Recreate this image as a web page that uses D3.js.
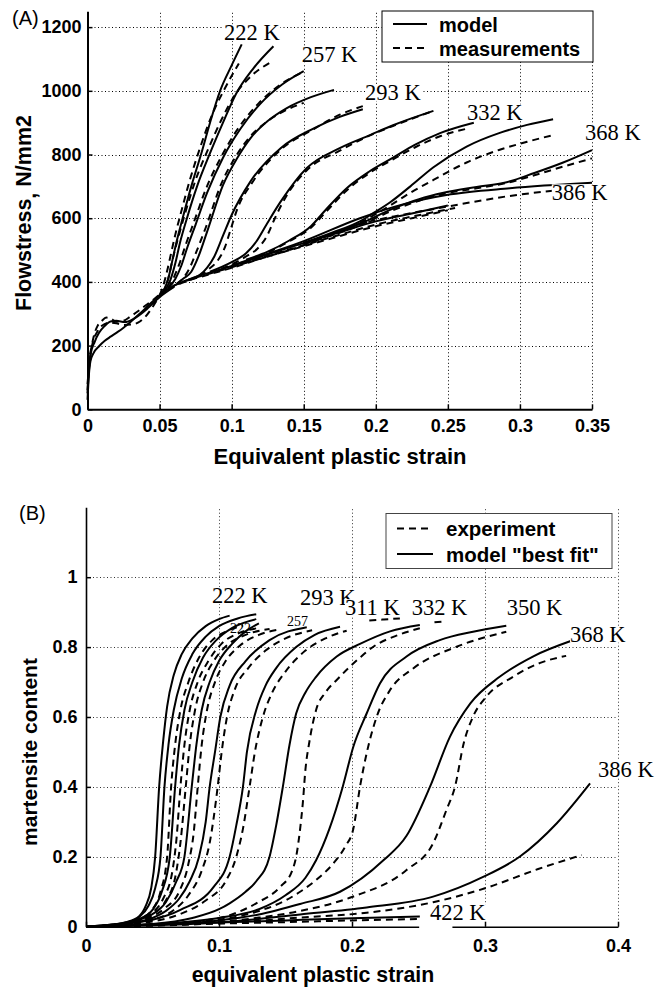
<!DOCTYPE html>
<html><head><meta charset="utf-8">
<script src="https://cdn.jsdelivr.net/npm/d3@7"></script>
<style>body{margin:0;background:#fff}svg{display:block}</style>
</head><body>
<svg id="c" width="664" height="992"></svg>
<script>
// ---------------- DATA : panel A ----------------
const aXTicks=[0,0.05,0.1,0.15,0.2,0.25,0.3,0.35];
const aXTickLabels=["0","0.05","0.1","0.15","0.2","0.25","0.3","0.35"];
const aYTicks=[0,200,400,600,800,1000,1200];
const aYTickLabels=["0","200","400","600","800","1000","1200"];

const aModelTrunk=[[0,30],[0.001,110],[0.002,150],[0.004,175],[0.008,198],[0.012,215],[0.016,228],[0.02,240],[0.025,256],[0.03,275],[0.035,295],[0.04,316],[0.045,338],[0.05,358],[0.06,388],[0.07,407],[0.078,420],[0.09,436],[0.1,450],[0.125,487],[0.15,522],[0.175,556],[0.2,590],[0.225,615],[0.25,640]];
const aModelTrunk2=[[0,50],[0.002,170],[0.005,212],[0.008,240],[0.012,262],[0.016,276],[0.02,278],[0.026,274],[0.032,284],[0.04,310],[0.05,352],[0.06,384]];
const aMeasTrunk1=[[0,60],[0.001,140],[0.003,200],[0.005,240],[0.007,262],[0.01,278],[0.013,288],[0.016,285],[0.02,275],[0.025,278],[0.03,292],[0.035,308],[0.04,325],[0.045,342],[0.05,360],[0.06,388],[0.07,406],[0.08,420],[0.1,446],[0.125,482],[0.15,515],[0.175,548],[0.2,580],[0.225,605],[0.255,632]];
const aMeasTrunk2=[[0,80],[0.002,170],[0.004,215],[0.007,245],[0.01,262],[0.015,272],[0.02,270],[0.025,265],[0.03,266],[0.035,272],[0.04,290],[0.045,320],[0.05,355],[0.06,385],[0.07,404],[0.08,418],[0.1,444],[0.125,480],[0.15,512],[0.175,544],[0.2,575],[0.225,600],[0.25,625]];

const aModel222=[[0.05,358],[0.053,375],[0.056,410],[0.059,470],[0.062,530],[0.066,600],[0.072,700],[0.079,804],[0.085,900],[0.092,1000],[0.1,1080],[0.107,1146]];
const aMeas222=[[0.05,358],[0.052,380],[0.055,430],[0.058,490],[0.061,550],[0.065,620],[0.071,720],[0.078,820],[0.086,920],[0.095,1005],[0.105,1086]];
const aModel240=[[0.052,365],[0.057,400],[0.061,460],[0.064,520],[0.069,600],[0.076,700],[0.085,804],[0.094,900],[0.103,990],[0.115,1070],[0.129,1140]];
const aMeas240=[[0.052,365],[0.056,410],[0.059,470],[0.063,540],[0.068,620],[0.075,720],[0.084,820],[0.093,910],[0.102,985],[0.114,1048],[0.128,1092]];
const aModel257=[[0.056,380],[0.061,410],[0.065,450],[0.069,505],[0.075,580],[0.083,680],[0.094,790],[0.106,880],[0.12,960],[0.135,1020],[0.15,1062]];
const aMeas257=[[0.056,380],[0.06,415],[0.064,460],[0.068,515],[0.074,590],[0.082,690],[0.093,795],[0.105,885],[0.119,962],[0.134,1020],[0.149,1058]];
const aModel275=[[0.062,395],[0.067,412],[0.072,432],[0.077,480],[0.083,558],[0.094,704],[0.104,790],[0.113,851],[0.125,905],[0.138,945],[0.155,980],[0.171,1003]];
const aMeas275=[[0.062,393],[0.067,415],[0.071,445],[0.076,500],[0.082,570],[0.093,710],[0.103,795],[0.112,852],[0.125,905],[0.138,940],[0.15,962]];
const aModel293=[[0.07,407],[0.078,422],[0.083,445],[0.088,480],[0.094,545],[0.1,610],[0.113,715],[0.134,820],[0.157,882],[0.175,918],[0.191,942]];
const aMeas293=[[0.07,405],[0.078,420],[0.084,440],[0.09,465],[0.095,505],[0.099,560],[0.104,630],[0.114,710],[0.134,815],[0.157,880],[0.175,925],[0.191,952]];
const aModel311=[[0.085,432],[0.1,462],[0.11,490],[0.117,526],[0.124,579],[0.134,652],[0.152,757],[0.175,820],[0.196,861],[0.212,892],[0.24,937]];
const aMeas311=[[0.085,430],[0.1,455],[0.11,480],[0.118,505],[0.124,540],[0.13,600],[0.138,670],[0.152,750],[0.175,812],[0.196,860],[0.215,895],[0.24,937]];
const aModel332=[[0.11,470],[0.125,495],[0.14,530],[0.155,575],[0.165,625],[0.18,695],[0.195,745],[0.212,790],[0.227,830],[0.245,868],[0.268,900]];
const aMeas332=[[0.11,468],[0.125,492],[0.14,528],[0.155,570],[0.165,618],[0.18,688],[0.195,740],[0.212,785],[0.227,822],[0.245,858],[0.265,883]];
const aModel350=[[0.15,522],[0.17,555],[0.189,590],[0.198,615],[0.21,650],[0.224,700],[0.24,760],[0.263,825],[0.286,868],[0.305,893],[0.323,911]];
const aMeas350=[[0.15,520],[0.17,552],[0.189,585],[0.198,608],[0.21,640],[0.224,680],[0.24,720],[0.263,775],[0.286,815],[0.305,840],[0.324,862]];
const aModel368=[[0.15,522],[0.19,585],[0.212,630],[0.23,660],[0.247,680],[0.27,698],[0.29,712],[0.31,742],[0.33,775],[0.35,814]];
const aMeas368=[[0.15,518],[0.19,580],[0.212,625],[0.23,655],[0.247,676],[0.27,694],[0.29,710],[0.31,735],[0.33,762],[0.35,788]];
const aModel386=[[0.1,452],[0.15,528],[0.189,600],[0.22,645],[0.249,673],[0.293,694],[0.35,711]];
const aMeas386=[[0.1,448],[0.15,515],[0.189,582],[0.22,612],[0.249,636],[0.293,670],[0.33,690]];

const aLabelTexts=["222 K","257 K","293 K","332 K","368 K","386 K"];
const aLabelPos=[[0.0947,1159],[0.1486,1091],[0.1926,971],[0.2632,908],[0.3452,845],[0.3221,657]];
const aLegendLabels=["model","measurements"];

// ---------------- DATA : panel B ----------------
const bXTicks=[0,0.1,0.2,0.3,0.4];
const bXTickLabels=["0","0.1","0.2","0.3","0.4"];
const bYTicks=[0,0.2,0.4,0.6,0.8,1];
const bYTickLabels=["0","0.2","0.4","0.6","0.8","1"];

const bModel1=[[0,0],[0.02,0.006],[0.03,0.013],[0.04,0.03],[0.045,0.06],[0.049,0.11],[0.052,0.2],[0.055,0.4],[0.058,0.53],[0.061,0.63],[0.066,0.72],[0.072,0.78],[0.08,0.825],[0.09,0.86],[0.1,0.88],[0.108,0.89]];
const bModel2=[[0,0],[0.02,0.006],[0.03,0.012],[0.04,0.028],[0.047,0.06],[0.052,0.11],[0.056,0.2],[0.059,0.4],[0.062,0.52],[0.066,0.62],[0.072,0.71],[0.08,0.78],[0.09,0.83],[0.1,0.86],[0.114,0.882],[0.128,0.894]];
const bModel3=[[0,0],[0.02,0.005],[0.03,0.01],[0.04,0.022],[0.05,0.048],[0.057,0.1],[0.063,0.2],[0.067,0.4],[0.07,0.52],[0.074,0.62],[0.08,0.7],[0.088,0.77],[0.098,0.82],[0.11,0.855],[0.128,0.88]];
const bModel4=[[0,0],[0.02,0.005],[0.03,0.01],[0.04,0.02],[0.05,0.036],[0.06,0.07],[0.068,0.13],[0.074,0.2],[0.0795,0.4],[0.083,0.52],[0.087,0.62],[0.093,0.7],[0.1,0.76],[0.11,0.81],[0.12,0.845],[0.13,0.868]];
const bModel5=[[0,0],[0.03,0.008],[0.05,0.025],[0.06,0.045],[0.07,0.08],[0.078,0.13],[0.085,0.2],[0.09,0.3],[0.093,0.4],[0.097,0.5],[0.101,0.6],[0.108,0.69],[0.12,0.76],[0.138,0.82],[0.166,0.857]];
const bModel6=[[0,0],[0.03,0.01],[0.05,0.02],[0.071,0.048],[0.096,0.114],[0.108,0.2],[0.113,0.29],[0.118,0.4],[0.121,0.5],[0.128,0.62],[0.135,0.69],[0.143,0.74],[0.158,0.8],[0.172,0.835],[0.191,0.858]];
const bModel7=[[0,0],[0.05,0.008],[0.08,0.025],[0.1,0.05],[0.108,0.067],[0.12,0.1],[0.128,0.13],[0.138,0.2],[0.143,0.29],[0.148,0.4],[0.153,0.52],[0.158,0.61],[0.165,0.67],[0.173,0.715],[0.1885,0.773],[0.206,0.809],[0.2286,0.845],[0.251,0.863]];
const bModel8=[[0,0],[0.05,0.007],[0.1,0.025],[0.13,0.05],[0.15,0.09],[0.165,0.14],[0.173,0.19],[0.183,0.28],[0.193,0.4],[0.201,0.515],[0.211,0.61],[0.221,0.696],[0.241,0.773],[0.266,0.82],[0.291,0.844],[0.316,0.861]];
const bModel9=[[0,0],[0.05,0.006],[0.1,0.018],[0.13,0.035],[0.161,0.065],[0.191,0.1],[0.2236,0.19],[0.241,0.26],[0.2586,0.4],[0.2737,0.544],[0.289,0.639],[0.311,0.715],[0.336,0.773],[0.365,0.818]];
const bModel10=[[0,0],[0.05,0.004],[0.1,0.012],[0.161,0.035],[0.211,0.055],[0.261,0.086],[0.299,0.143],[0.326,0.2],[0.354,0.296],[0.379,0.41]];
const bModel11=[[0,0],[0.05,0.006],[0.1,0.012],[0.15,0.018],[0.2,0.024],[0.251,0.029]];

const bExp1=[[0,0],[0.02,0.005],[0.03,0.01],[0.04,0.022],[0.05,0.05],[0.056,0.1],[0.061,0.2],[0.064,0.4],[0.067,0.52],[0.071,0.62],[0.077,0.7],[0.085,0.77],[0.095,0.82],[0.106,0.846],[0.118,0.862]];
const bExp2=[[0,0],[0.02,0.005],[0.03,0.01],[0.04,0.02],[0.05,0.04],[0.058,0.08],[0.065,0.16],[0.068,0.25],[0.071,0.4],[0.074,0.52],[0.078,0.62],[0.084,0.7],[0.092,0.76],[0.102,0.81],[0.115,0.84],[0.13,0.855]];
const bExp3=[[0,0],[0.02,0.004],[0.03,0.009],[0.04,0.018],[0.05,0.035],[0.06,0.075],[0.067,0.14],[0.071,0.24],[0.075,0.4],[0.078,0.52],[0.082,0.62],[0.088,0.7],[0.096,0.76],[0.106,0.805],[0.12,0.835],[0.138,0.852]];
const bExp4=[[0,0],[0.03,0.008],[0.05,0.03],[0.06,0.055],[0.07,0.1],[0.077,0.18],[0.081,0.27],[0.084,0.4],[0.087,0.52],[0.091,0.62],[0.097,0.7],[0.105,0.76],[0.116,0.805],[0.13,0.835],[0.145,0.85]];
const bExp5=[[0,0],[0.03,0.007],[0.05,0.02],[0.065,0.045],[0.077,0.09],[0.087,0.16],[0.093,0.24],[0.099,0.4],[0.102,0.5],[0.106,0.6],[0.112,0.68],[0.122,0.74],[0.135,0.79],[0.15,0.825],[0.17,0.848]];
const bExp6=[[0,0],[0.05,0.015],[0.07,0.035],[0.09,0.075],[0.105,0.13],[0.113,0.2],[0.118,0.28],[0.123,0.4],[0.127,0.5],[0.133,0.6],[0.14,0.67],[0.15,0.73],[0.165,0.79],[0.18,0.825],[0.196,0.847]];
const bExp7=[[0,0],[0.05,0.006],[0.1,0.025],[0.128,0.067],[0.146,0.114],[0.155,0.16],[0.158,0.2],[0.161,0.28],[0.163,0.353],[0.165,0.45],[0.168,0.53],[0.173,0.62],[0.18,0.67],[0.1885,0.706],[0.206,0.77],[0.216,0.801],[0.235,0.835],[0.251,0.854]];
const bExp8=[[0,0],[0.05,0.006],[0.1,0.02],[0.13,0.045],[0.15,0.075],[0.161,0.1],[0.175,0.14],[0.186,0.181],[0.195,0.23],[0.201,0.28],[0.206,0.4],[0.211,0.496],[0.2186,0.601],[0.2286,0.677],[0.246,0.739],[0.2787,0.801],[0.316,0.844]];
const bExp9=[[0,0],[0.05,0.005],[0.1,0.014],[0.13,0.026],[0.161,0.045],[0.2,0.085],[0.241,0.162],[0.261,0.239],[0.271,0.334],[0.2774,0.4],[0.284,0.525],[0.291,0.601],[0.301,0.658],[0.321,0.715],[0.341,0.754],[0.361,0.775]];
const bExp10=[[0,0],[0.05,0.003],[0.1,0.01],[0.161,0.026],[0.211,0.04],[0.261,0.07],[0.3,0.11],[0.34,0.165],[0.3727,0.205]];
const bExp11=[[0,0],[0.05,0.004],[0.1,0.009],[0.15,0.013],[0.2,0.018],[0.25,0.022]];
const bExpTail311=[[0.213,0.876],[0.224,0.879],[0.236,0.882]];
const bExpTail332=[[0.262,0.871],[0.268,0.873]];

const bLabelTexts=["222 K","293 K","311 K","332 K","350 K","368 K","386 K","422 K"];
const bLabelPos=[[0.0947,0.926],[0.1609,0.920],[0.1947,0.892],[0.2449,0.892],[0.3163,0.892],[0.3639,0.8155],[0.385,0.429],[0.2586,0.019]];
const bSmallLabelTexts=["222","257"];
const bSmallLabelPos=[[0.1083,0.840],[0.1511,0.860]];
const bLegendLabels=["experiment","model \"best fit\""];
const bAxisGap=[0.2505,0.2755];

// ---------------- DRAWING ----------------
const SANS='"Liberation Sans", Arial, Helvetica, sans-serif';
const SERIF='"Liberation Serif", "Times New Roman", serif';
const DASH="7,5";
const svg=d3.select("#c");

function panel(opt){
  const g=svg.append("g");
  const x=d3.scaleLinear().domain(opt.xDomain).range(opt.xRange);
  const y=d3.scaleLinear().domain(opt.yDomain).range(opt.yRange);
  const snap=v=>Math.round(v)+0.5;
  g.append("g").selectAll("line").data(opt.xTicks.slice(1)).join("line")
    .attr("x1",d=>snap(x(d))).attr("x2",d=>snap(x(d))).attr("y1",y(opt.yDomain[0])).attr("y2",y(opt.yDomain[1]))
    .attr("stroke",opt.gridColor).attr("stroke-width",1).attr("stroke-dasharray","1,2.5");
  g.append("g").selectAll("line").data(opt.yTicks.slice(1)).join("line")
    .attr("x1",x(opt.xDomain[0])).attr("x2",x(opt.xDomain[1])).attr("y1",d=>snap(y(d))).attr("y2",d=>snap(y(d)))
    .attr("stroke",opt.gridColor).attr("stroke-width",1).attr("stroke-dasharray","1,2.5");
  const line=d3.line().x(d=>x(d[0])).y(d=>y(d[1])).curve(d3.curveMonotoneX);
  g.append("g").selectAll("path").data(opt.series).join("path")
    .attr("d",d=>line(d.values)).attr("fill","none").attr("stroke","#000")
    .attr("stroke-width",2).attr("stroke-linejoin","round")
    .attr("stroke-dasharray",d=>d.dashed?DASH:null);
  const lg=g.append("g");
  opt.labels.forEach((t,i)=>{
    const px=x(opt.labelPos[i][0]), py=y(opt.labelPos[i][1]);
    const fs=opt.labelSize;
    const txt=lg.append("text").attr("x",px).attr("y",py).attr("font-family",SERIF)
      .attr("font-size",fs).text(t);
    const bb=txt.node().getBBox();
    lg.insert("rect","text:last-child").attr("x",bb.x).attr("y",py-fs*0.7).attr("width",bb.width)
      .attr("height",fs*0.74).attr("fill","#fff");
  });
  (opt.smallLabels||[]).forEach((t,i)=>{
    g.append("text").attr("x",x(opt.smallLabelPos[i][0])).attr("y",y(opt.smallLabelPos[i][1]))
      .attr("font-family",SERIF).attr("font-size",14).text(t);
  });
  const ax=g.append("g").attr("transform",`translate(0,${y(opt.yDomain[0])})`)
    .call(d3.axisBottom(x).tickValues(opt.xTicks).tickFormat((d,i)=>opt.xTickLabels[i])
      .tickSizeInner(-5).tickSizeOuter(0).tickPadding(opt.xPad));
  const ay=g.append("g").attr("transform",`translate(${x(opt.xDomain[0])},0)`)
    .call(d3.axisLeft(y).tickValues(opt.yTicks).tickFormat((d,i)=>opt.yTickLabels[i])
      .tickSizeInner(-5).tickSizeOuter(0).tickPadding(opt.yPad));
  [ax,ay].forEach(a=>{
    a.attr("font-family",SANS).attr("font-size",18).attr("font-weight","bold");
    a.select(".domain").attr("stroke-width",opt.axisWidth).attr("stroke","#000");
    a.selectAll(".tick line").attr("stroke-width",1.5).attr("stroke","#000");
    a.selectAll(".tick text").attr("fill","#000");
  });
  return {g,x,y};
}

// ---- Panel A
const A=panel({
  xDomain:[0,0.35], xRange:[87.5,592], yDomain:[0,1250], yRange:[409.3,11.2],
  xTicks:aXTicks, xTickLabels:aXTickLabels, yTicks:aYTicks, yTickLabels:aYTickLabels,
  gridColor:"#000", axisWidth:2, xPad:10, yPad:6, labelSize:22.5,
  series:[
    {values:aModelTrunk},{values:aModelTrunk2},{values:aMeasTrunk1,dashed:1},{values:aMeasTrunk2,dashed:1},
    {values:aModel222},{values:aMeas222,dashed:1},{values:aModel240},{values:aMeas240,dashed:1},
    {values:aModel257},{values:aMeas257,dashed:1},{values:aModel275},{values:aMeas275,dashed:1},
    {values:aModel293},{values:aMeas293,dashed:1},{values:aModel311},{values:aMeas311,dashed:1},
    {values:aModel332},{values:aMeas332,dashed:1},{values:aModel350},{values:aMeas350,dashed:1},
    {values:aModel368},{values:aMeas368,dashed:1},{values:aModel386},{values:aMeas386,dashed:1}
  ],
  labels:aLabelTexts, labelPos:aLabelPos
});
{
  const t=svg.append("text").attr("transform","translate(31,213) rotate(-90)").attr("text-anchor","middle")
    .attr("font-family",SANS).attr("font-weight","bold").attr("font-size",21.5);
  t.append("tspan").text("Flowstress");
  t.append("tspan").attr("dy",5).text(",");
  t.append("tspan").attr("dy",-5).text(" N/mm2");
}
svg.append("text").attr("x",340).attr("y",464).attr("text-anchor","middle").attr("font-family",SANS)
  .attr("font-weight","bold").attr("font-size",22).text("Equivalent plastic strain");
svg.append("text").attr("x",12).attr("y",25).attr("font-family",SANS).attr("font-size",20).text("(A)");
{
  const lg=svg.append("g");
  lg.append("rect").attr("x",382).attr("y",11).attr("width",211).attr("height",51).attr("fill","#fff").attr("stroke","#000").attr("stroke-width",1);
  aLegendLabels.forEach((t,i)=>{
    const yy=24+i*24;
    lg.append("line").attr("x1",393).attr("x2",427).attr("y1",yy).attr("y2",yy).attr("stroke","#000").attr("stroke-width",2)
      .attr("stroke-dasharray",i===1?DASH:null);
    lg.append("text").attr("x",439).attr("y",yy+7.5).attr("font-family",SANS).attr("font-weight","bold").attr("font-size",20).text(t);
  });
}

// ---- Panel B
const B=panel({
  xDomain:[0,0.4], xRange:[86,618], yDomain:[0,1.2], yRange:[926.7,507.3],
  xTicks:bXTicks, xTickLabels:bXTickLabels, yTicks:bYTicks, yTickLabels:bYTickLabels,
  gridColor:"#333", axisWidth:1.6, xPad:13, yPad:8.5, labelSize:22.5,
  series:[
    {values:bModel1},{values:bModel2},{values:bModel3},{values:bModel4},{values:bModel5},{values:bModel6},
    {values:bModel7},{values:bModel8},{values:bModel9},{values:bModel10},{values:bModel11},
    {values:bExp1,dashed:1},{values:bExp2,dashed:1},{values:bExp3,dashed:1},{values:bExp4,dashed:1},
    {values:bExp5,dashed:1},{values:bExp6,dashed:1},{values:bExp7,dashed:1},{values:bExp8,dashed:1},
    {values:bExp9,dashed:1},{values:bExp10,dashed:1},{values:bExp11,dashed:1},
    {values:bExpTail311,dashed:1},{values:bExpTail332,dashed:1}
  ],
  labels:bLabelTexts, labelPos:bLabelPos, smallLabels:bSmallLabelTexts, smallLabelPos:bSmallLabelPos
});
B.g.append("line").attr("x1",B.x(bAxisGap[0])).attr("x2",B.x(bAxisGap[1])).attr("y1",B.y(0)).attr("y2",B.y(0))
  .attr("stroke","#fff").attr("stroke-width",3);
svg.append("text").attr("transform","translate(37,752) rotate(-90)").attr("text-anchor","middle")
  .attr("font-family",SANS).attr("font-weight","bold").attr("font-size",21).text("martensite content");
svg.append("text").attr("x",313).attr("y",982).attr("text-anchor","middle").attr("font-family",SANS)
  .attr("font-weight","bold").attr("font-size",21.3).text("equivalent plastic strain");
svg.append("text").attr("x",19).attr("y",520).attr("font-family",SANS).attr("font-size",20).text("(B)");
{
  const lg=svg.append("g");
  lg.append("rect").attr("x",386).attr("y",513.5).attr("width",226).attr("height",55).attr("fill","#fff").attr("stroke","#444").attr("stroke-width",1);
  bLegendLabels.forEach((t,i)=>{
    const yy=528.5+i*25.5;
    lg.append("line").attr("x1",397).attr("x2",433).attr("y1",yy).attr("y2",yy).attr("stroke","#000").attr("stroke-width",2)
      .attr("stroke-dasharray",i===0?DASH:null);
    lg.append("text").attr("x",446).attr("y",yy+7.5).attr("font-family",SANS).attr("font-weight","bold").attr("font-size",20.5).text(t);
  });
}
</script>
</body></html>
